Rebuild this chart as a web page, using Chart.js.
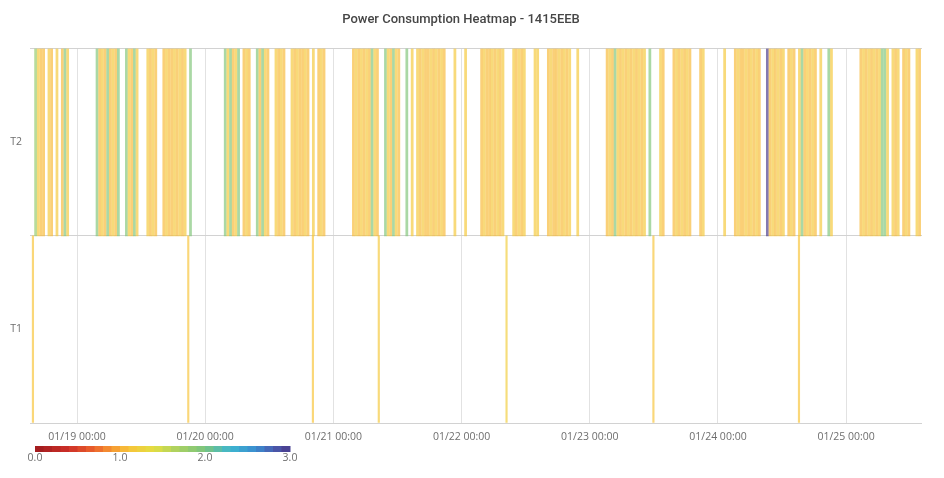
<!DOCTYPE html>
<html>
<head>
<meta charset="utf-8">
<script src="https://cdn.jsdelivr.net/npm/chart.js@4.4.1/dist/chart.umd.min.js"></script>
<style>
    html, body { margin: 0; padding: 0; background: #fff; }
</style>
</head>
<body>
<canvas id="heatmap" width="944" height="478"></canvas>
<script>
var _ = null;

// Days on the x axis (labels are shown at 00:00 of each day)
var days = ["01/18", "01/19", "01/20", "01/21", "01/22", "01/23", "01/24", "01/25"];

// Rows of the heatmap
var rowNames = ["T1", "T2"];

// T2 readings, one value per half hour from 00:00 (null = no reading)
var t2_0118 = [
    _, _, _, _, _, _, _, _, _, _, _, _,
    _, _, _, _, _, _, _, _, _, _, _, _,
    _, _, _, _, _, _, _, _, 1.8, 1.15, 1.05, 1.05,
    _, 1.15, 1.05, _, 1.15, _, 1.05, 1.95, 1.15, _, _, _
];
var t2_0119 = [
    _, _, _, _, _, _, _, 1.95, 1.05, 1.15, 1.05, 1.95,
    1.05, 1.15, 1.05, 1.95, _, _, 1.95, 1.15, 1.05, 1.95, 1.15, _,
    _, _, 1.15, 1.05, 1.15, 1.05, _, _, 1.05, 1.15, 1.05, 1.05,
    1.15, 1.05, 1.15, 1.05, 1.15, _, 1.95, _, _, _, _, _
];
var t2_0120 = [
    _, _, _, _, _, _, _, 1.95, 1.15, 1.95, 1.05, 1.15,
    1.95, _, 1.05, 1.15, 1.05, _, _, 1.95, 1.05, 1.95, 1.15, 1.05,
    _, _, 1.15, 1.05, 1.15, 1.05, _, _, 1.15, 1.05, 1.15, 1.05,
    1.05, 1.15, 1.05, _, 1.15, _, 1.05, 1.15, 1.05, _, _, _
];
var t2_0121 = [
    _, _, _, _, _, _, _, 1.05, 1.15, 1.05, 1.15, 1.05,
    1.15, 1.05, 1.95, 1.15, 1.05, _, _, 1.95, 1.15, 1.05, 1.95, 1.15,
    1.05, _, _, 1.95, _, 1.15, _, 1.15, 1.05, 1.15, 1.05, 1.05,
    1.15, 1.05, 1.15, 1.05, 1.15, 1.05, _, _, _, 1.15, _, _
];
var t2_0122 = [
    _, 1.15, _, _, _, _, _, 1.05, 1.15, 1.05, 1.05, 1.15,
    1.05, 1.15, 1.05, 1.15, _, _, _, 1.15, 1.05, 1.15, 1.05, 1.15,
    _, _, _, 1.15, 1.15, _, _, _, 1.05, 1.15, 1.05, 1.05,
    1.15, 1.05, 1.15, 1.05, 1.15, _, _, 1.15, _, _, _, _
];
var t2_0123 = [
    _, _, _, _, _, _, 1.05, 1.15, 1.05, 1.95, 1.15, 1.05,
    1.15, 1.05, 1.15, 1.05, 1.15, 1.05, 1.15, 1.05, 1.15, _, 1.95, _,
    _, _, 1.15, 1.05, _, _, _, 1.05, 1.15, 1.05, 1.15, 1.05,
    1.15, 1.05, _, _, _, 1.05, 1.15, _, _, _, _, _
];
var t2_0124 = [
    _, _, 1.15, _, _, _, 1.05, 1.15, 1.05, 1.05, 1.15, 1.05,
    1.15, 1.05, 1.15, 1.05, _, _, 3.0, 1.05, 1.15, 1.05, 1.15, 1.05,
    1.15, _, 1.05, 1.15, 1.05, _, 1.15, 1.95, 1.05, 1.15, 1.05, 1.15,
    1.05, _, 1.15, _, _, 1.95, 1.15, _, _, _, _, _
];
var t2_0125 = [
    _, _, _, _, _, 1.05, 1.15, 1.05, 1.15, 1.05, 1.15, 1.05,
    1.15, 1.95, 1.95, 1.15, _, 1.15, 1.05, 1.15, _, 1.05, 1.15, 1.05,
    _, _, 1.15, 1.05
];
var t2Days = [t2_0118, t2_0119, t2_0120, t2_0121, t2_0122, t2_0123, t2_0124, t2_0125];

// T1 readings (only a few)
var t1Times = ["01/18 15:45", "01/19 20:50", "01/20 20:10", "01/21 08:30", "01/22 08:25", "01/23 11:55", "01/24 15:10"];
var t1Values = [1.1, 1.1, 1.1, 1.15, 1.2, 1.1, 1.1];

// Colour scale ticks
var colorTicks = [0, 1, 2, 3];

//Colours of the visual map, from 0 to 3
var colorStops = [
    [0.0, [158, 26, 30]],
    [0.4, [206, 48, 40]],
    [0.7, [236, 100, 44]],
    [0.9, [245, 150, 50]],
    [1.1, [248, 196, 58]],
    [1.4, [226, 222, 66]],
    [1.7, [166, 208, 100]],
    [2.0, [122, 196, 126]],
    [2.3, [62, 182, 208]],
    [2.6, [58, 140, 208]],
    [2.8, [74, 94, 176]],
    [3.0, [74, 58, 138]]
];

var xMin = -8.8;
var xMax = 158.2;

///Hours since 01/19 00:00 for a "MM/DD HH:MM" string
function toHours(text) {
    var parts = text.split(" ");
    var dayIndex = days.indexOf(parts[0]) - 1;
    var hm = parts[1].split(":");
    return dayIndex * 24 + parseInt(hm[0]) + parseInt(hm[1]) / 60;
}

function colorAt(v, alpha) {
    var i = 0;
    while (i < colorStops.length - 2 && v > colorStops[i + 1][0]) {
        i++;
    }
    var a = colorStops[i], b = colorStops[i + 1];
    var t = Math.max(0, Math.min(1, (v - a[0]) / (b[0] - a[0])));
    var c = [0, 1, 2].map(k => Math.round(a[1][k] + (b[1][k] - a[1][k]) * t));
    return "rgba(" + c[0] + "," + c[1] + "," + c[2] + "," + alpha + ")";
}

//Build the bar points for each row
var t2Points = [];
t2Days.forEach((dayValues, d) => {
    dayValues.forEach((v, j) => {
        if (v !== null) {
            t2Points.push({ x: (d - 1) * 24 + j * 0.5 + 0.25, y: [1, 2], v: v });
        }
    });
});

var t1Points = [];
t1Times.forEach((t, i) => {
    t1Points.push({ x: toHours(t), y: [0, 1], v: t1Values[i] });
});

function cellColor(context) {
    if (!context.raw) return "rgba(0,0,0,0)";
    return colorAt(context.raw.v, 0.68);
}

var colorBarPlugin = {
    id: "colorBar",
    afterDraw: function (chart) {
        var ctx = chart.ctx;
        var x0 = 35, x1 = 290, y0 = 446, h = 6, steps = 30;
        var w = (x1 - x0) / steps;
        ctx.save();
        for (var i = 0; i < steps; i++) {
            ctx.fillStyle = colorAt((i + 0.5) / steps * 3, 1);
            ctx.fillRect(x0 + i * w, y0, w + 0.5, h);
        }
        ctx.font = "10.5px 'Open Sans'";
        ctx.fillStyle = "#6e6e6e";
        ctx.textAlign = "center";
        ctx.textBaseline = "middle";
        colorTicks.forEach(v => {
            ctx.fillText(v.toFixed(1), x0 + v / 3 * (x1 - x0), 458);
        });
        ctx.restore();
    }
};

var chart = new Chart("heatmap", {
    type: "bar",
    data: {
        datasets: [{
            label: rowNames[1],
            data: t2Points,
            backgroundColor: cellColor,
            barThickness: 2.1,
            grouped: false,
            borderWidth: 0
        }, {
            label: rowNames[0],
            data: t1Points,
            backgroundColor: cellColor,
            barThickness: 1.5,
            grouped: false,
            borderWidth: 0
        }]
    },
    options: {
        responsive: false,
        animation: false,
        layout: {
            padding: { left: 0, right: 22, top: 0, bottom: 0 }
        },
        plugins: {
            legend: { display: false },
            tooltip: { enabled: false },
            title: {
                display: true,
                text: "Power Consumption Heatmap - 1415EEB",
                color: "#464646",
                font: { family: "Roboto", size: 13, weight: "500" },
                padding: { top: 12, bottom: 21 }
            }
        },
        scales: {
            x: {
                type: "linear",
                min: xMin,
                max: xMax,
                offset: false,
                afterBuildTicks: function (scale) {
                    scale.ticks = days.slice(1).map((d, i) => ({ value: i * 24 }));
                },
                afterFit: function (scale) {
                    scale.height = 55;
                },
                ticks: {
                    autoSkip: false,
                    maxRotation: 0,
                    padding: 8,
                    color: "#6e6e6e",
                    font: { family: "Open Sans", size: 10.5 },
                    callback: function (value) {
                        return days[value / 24 + 1] + " 00:00";
                    }
                },
                grid: { color: "#e2e2e2", drawTicks: false, offset: false },
                border: { display: false }
            },
            y: {
                type: "linear",
                min: 0,
                max: 2,
                afterBuildTicks: function (scale) {
                    scale.ticks = [0, 0.5, 1, 1.5, 2].map(v => ({ value: v }));
                },
                afterFit: function (scale) {
                    scale.width = 30;
                },
                ticks: {
                    padding: 8,
                    color: "#6e6e6e",
                    font: { family: "Open Sans", size: 10.5 },
                    callback: function (value) {
                        if (value === 1.5) return rowNames[1];
                        if (value === 0.5) return rowNames[0];
                        return "";
                    }
                },
                grid: {
                    drawTicks: false,
                    color: function (context) {
                        return Number.isInteger(context.tick.value) ? "#d2d2d2" : "rgba(0,0,0,0)";
                    }
                },
                border: { display: false }
            }
        }
    },
    plugins: [colorBarPlugin]
});
</script>
</body>
</html>
